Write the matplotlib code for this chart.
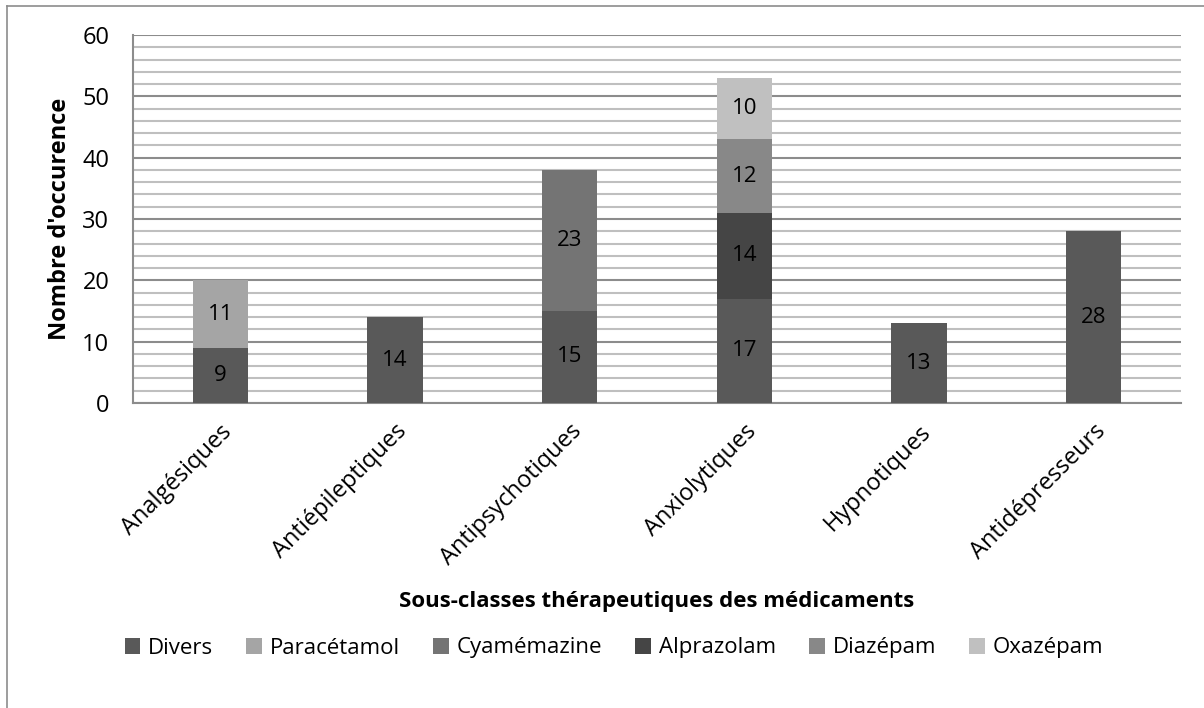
import numpy as np
import matplotlib
matplotlib.use("Agg")
import matplotlib.pyplot as plt
from matplotlib.lines import Line2D

plt.rcParams['font.family'] = ['Open Sans', 'DejaVu Sans']

# categories and series
categories = ['Analgésiques', 'Antiépileptiques', 'Antipsychotiques',
              'Anxiolytiques', 'Hypnotiques', 'Antidépresseurs']
divers = [9, 14, 15, 17, 13, 28]
paracetamol = [11, 0, 0, 0, 0, 0]
cyamemazine = [0, 0, 23, 0, 0, 0]
alprazolam = [0, 0, 0, 14, 0, 0]
diazepam = [0, 0, 0, 12, 0, 0]
oxazepam = [0, 0, 0, 10, 0, 0]

series_names = ['Divers', 'Paracétamol', 'Cyamémazine', 'Alprazolam', 'Diazépam', 'Oxazépam']
series_vals = [divers, paracetamol, cyamemazine, alprazolam, diazepam, oxazepam]
colors = ['#595959', '#a5a5a5', '#747474', '#454545', '#888888', '#c0c0c0']

fig = plt.figure(figsize=(12.04, 7.08), dpi=100)
ax = fig.add_axes([133/1204, 1-403/708, (1181-133)/1204, (403-35)/708])

x = np.arange(len(categories))
bottom = np.zeros(len(categories))
handles = []
for name, vals, col in zip(series_names, series_vals, colors):
    vals = np.array(vals, dtype=float)
    bars = ax.bar(x, vals, 0.315, bottom=bottom, color=col, zorder=3, label=name)
    for xi, v, b in zip(x, vals, bottom):
        if v > 0:
            ax.text(xi, b + v/2, str(int(v)), ha='center', va='center',
                    fontsize=16, color='black', zorder=4)
    bottom += vals
    handles.append(bars)

ax.set_xlim(-0.5, len(categories) - 0.5)
ax.set_ylim(0, 60)
ax.set_yticks(range(0, 61, 10))
ax.set_yticks(range(0, 61, 2), minor=True)
ax.yaxis.grid(True, which='minor', color='#bfbfbf', linewidth=1.5, zorder=0)
ax.yaxis.grid(True, which='major', color='#8c8c8c', linewidth=1.5, zorder=1)
ax.tick_params(axis='y', which='both', length=0, labelsize=17, pad=17)
ax.tick_params(axis='x', length=0, labelsize=17, pad=12)
ax.set_xticks(x)
ax.set_xticklabels(categories, rotation=45, ha='right', rotation_mode='anchor')

for s in ['top', 'right']:
    ax.spines[s].set_visible(False)
for s in ['left', 'bottom']:
    ax.spines[s].set_color('#8c8c8c')
    ax.spines[s].set_linewidth(1.5)

fig.text(60/1204, 1-219/708, "Nombre d'occurence", rotation=90, ha='center',
         va='center', fontsize=17, fontweight='bold')
fig.text(657/1204, 1-602/708, 'Sous-classes thérapeutiques des médicaments',
         ha='center', va='center', fontsize=16, fontweight='bold')

fig.legend(handles=handles, labels=series_names, loc='center', ncol=6,
           bbox_to_anchor=(614/1204, 1-648/708), frameon=False, fontsize=16,
           handlelength=0.7, handleheight=0.7, columnspacing=1.5, handletextpad=0.35)

# outer chart frame (only top and left visible)
fig.add_artist(Line2D([7/1204, 1], [1-6/708, 1-6/708], color='#8c8c8c', lw=1.2))
fig.add_artist(Line2D([7/1204, 7/1204], [0, 1-6/708], color='#8c8c8c', lw=1.2))

fig.savefig('out.png', dpi=100)
